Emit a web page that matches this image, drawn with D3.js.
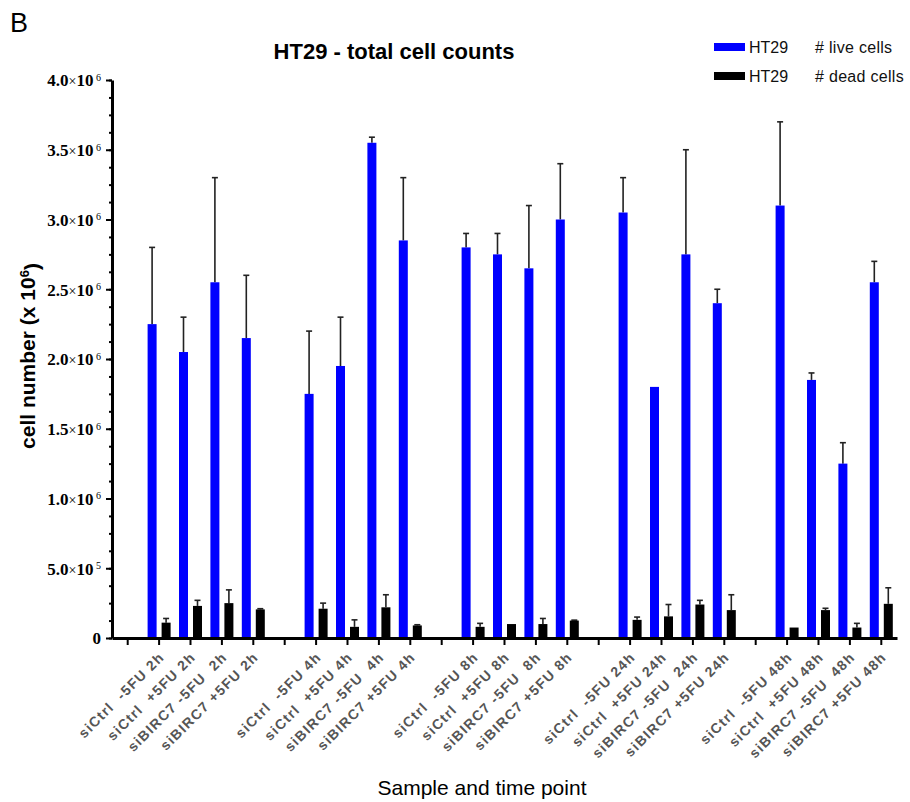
<!DOCTYPE html>
<html>
<head>
<meta charset="utf-8">
<script src="https://cdn.jsdelivr.net/npm/d3@7"></script>
<style>
  body { margin: 0; background: #fff; }
  svg { display: block; }
</style>
</head>
<body>
<svg id="chart" width="910" height="802"></svg>
<script>
// ---- data ----
const slots = [
  "", "siCtrl  -5FU 2h", "siCtrl  +5FU 2h", "siBIRC7 -5FU  2h", "siBIRC7 +5FU 2h",
  "", "siCtrl  -5FU 4h", "siCtrl  +5FU 4h", "siBIRC7 -5FU  4h", "siBIRC7 +5FU 4h",
  "", "siCtrl  -5FU 8h", "siCtrl  +5FU 8h", "siBIRC7 -5FU  8h", "siBIRC7 +5FU 8h",
  "", "siCtrl  -5FU 24h", "siCtrl  +5FU 24h", "siBIRC7 -5FU  24h", "siBIRC7 +5FU 24h",
  "", "siCtrl  -5FU 48h", "siCtrl  +5FU 48h", "siBIRC7 -5FU  48h", "siBIRC7 +5FU 48h"
];
const liveMean = [null, 2.25e6, 2.05e6, 2.55e6, 2.15e6,
                  null, 1.75e6, 1.95e6, 3.55e6, 2.85e6,
                  null, 2.80e6, 2.75e6, 2.65e6, 3.00e6,
                  null, 3.05e6, 1.80e6, 2.75e6, 2.40e6,
                  null, 3.10e6, 1.85e6, 1.25e6, 2.55e6];
const liveErr  = [null, 0.55e6, 0.25e6, 0.75e6, 0.45e6,
                  null, 0.45e6, 0.35e6, 0.04e6, 0.45e6,
                  null, 0.10e6, 0.15e6, 0.45e6, 0.40e6,
                  null, 0.25e6, 0.00e6, 0.75e6, 0.10e6,
                  null, 0.60e6, 0.05e6, 0.15e6, 0.15e6];
const deadMean = [null, 0.110e6, 0.230e6, 0.250e6, 0.205e6,
                  null, 0.210e6, 0.080e6, 0.220e6, 0.090e6,
                  null, 0.080e6, 0.100e6, 0.100e6, 0.125e6,
                  null, 0.130e6, 0.155e6, 0.240e6, 0.200e6,
                  null, 0.075e6, 0.200e6, 0.075e6, 0.245e6];
const deadErr  = [null, 0.030e6, 0.040e6, 0.095e6, 0.005e6,
                  null, 0.040e6, 0.050e6, 0.090e6, 0.005e6,
                  null, 0.025e6, 0.000e6, 0.040e6, 0.003e6,
                  null, 0.020e6, 0.085e6, 0.030e6, 0.110e6,
                  null, 0.000e6, 0.013e6, 0.030e6, 0.115e6];
const seriesNames = ["HT29", "HT29"];
const seriesDesc = ["# live cells", "# dead cells"];
const seriesColors = ["#0000ff", "#000000"];
const yTicks = [0, 5e5, 1e6, 1.5e6, 2e6, 2.5e6, 3e6, 3.5e6, 4e6];
const yTickLabels = ["0", "5.0×10^5", "1.0×10^6", "1.5×10^6", "2.0×10^6", "2.5×10^6", "3.0×10^6", "3.5×10^6", "4.0×10^6"];
const yMinorTicks = d3.range(0, 4.0001e6, 1.25e5);

// ---- layout ----
const svg = d3.select("#chart");
const x = d3.scaleBand().domain(d3.range(slots.length)).range([112, 897]).padding(0);
const y = d3.scaleLinear().domain([0, 4e6]).range([638, 80]);
const sub = d3.scaleBand().domain([0, 1]).range([-11.5, 11.5]).paddingInner(5 / 14).paddingOuter(0);
const cx = i => x(i) + x.bandwidth() / 2;

const rows = [];
slots.forEach((s, i) => {
  if (liveMean[i] != null) rows.push({i, s: 0, v: liveMean[i], e: liveErr[i]});
  if (deadMean[i] != null) rows.push({i, s: 1, v: deadMean[i], e: deadErr[i]});
});

// error bars (upper)
const eb = svg.append("g").attr("stroke", "#222").attr("stroke-width", 1.6);
rows.filter(r => r.e > 0).forEach(r => {
  const c = cx(r.i) + sub(r.s) + sub.bandwidth() / 2;
  eb.append("line").attr("x1", c).attr("x2", c).attr("y1", y(r.v)).attr("y2", y(r.v + r.e));
  eb.append("line").attr("x1", c - 3).attr("x2", c + 3).attr("y1", y(r.v + r.e)).attr("y2", y(r.v + r.e));
});

// bars
svg.append("g").selectAll("rect").data(rows).join("rect")
  .attr("x", r => cx(r.i) + sub(r.s))
  .attr("width", sub.bandwidth())
  .attr("y", r => y(r.v))
  .attr("height", r => y(0) - y(r.v))
  .attr("fill", r => seriesColors[r.s]);

// y axis
const yAxisG = svg.append("g").attr("transform", "translate(112,0)");
yAxisG.call(d3.axisLeft(y).tickValues(yMinorTicks).tickSize(3).tickFormat(() => ""))
  .call(g => g.select(".domain").remove())
  .selectAll("line").attr("stroke", "#000").attr("stroke-width", 2);
const yAxisMajor = svg.append("g").attr("transform", "translate(112,0)");
yAxisMajor.call(d3.axisLeft(y).tickValues(yTicks).tickSize(6).tickSizeOuter(0).tickFormat(() => ""));
yAxisMajor.select(".domain").attr("stroke", "#000").attr("stroke-width", 3);
yAxisMajor.selectAll(".tick line").attr("stroke", "#000").attr("stroke-width", 2);
yAxisMajor.selectAll(".tick").each(function (d, k) {
  const lab = yTickLabels[k];
  const t = d3.select(this).append("text")
    .attr("x", -11).attr("dy", "0.35em")
    .attr("text-anchor", "end")
    .attr("fill", "#000")
    .style("font-family", "'Liberation Serif', 'Times New Roman', serif")
    .style("font-size", "17px").style("font-weight", "bold");
  if (lab.indexOf("×") < 0) { t.text(lab); return; }
  const [mant, rest] = lab.split("×");
  const [base, exp] = rest.split("^");
  t.append("tspan").text(mant);
  t.append("tspan").style("font-weight", "normal").style("font-size", "14px").text("×");
  t.append("tspan").text(base);
  t.append("tspan").attr("dy", "-0.55em").style("font-size", "10px").style("font-weight", "normal").text(" " + exp);
});

// x axis
const xAxisG = svg.append("g").attr("transform", "translate(0,638)");
xAxisG.call(d3.axisBottom(x).tickSize(7).tickSizeOuter(0).tickFormat(() => ""));
xAxisG.select(".domain").attr("stroke", "#000").attr("stroke-width", 3);
xAxisG.selectAll(".tick line").attr("stroke", "#000").attr("stroke-width", 2);
xAxisG.selectAll(".tick").append("text")
  .attr("text-anchor", "end")
  .attr("transform", "translate(6,20) rotate(-45)")
  .attr("fill", "#555")
  .style("white-space", "pre")
  .style("font-family", "Arial, 'Liberation Sans', sans-serif")
  .style("font-size", "14px").style("font-weight", "bold")
  .style("letter-spacing", "1.3px")
  .text(d => slots[d]);

// titles
svg.append("text").attr("x", 10).attr("y", 32)
  .style("font-family", "Arial, 'Liberation Sans', sans-serif").style("font-size", "27px")
  .text("B");
svg.append("text").attr("x", 394).attr("y", 59).attr("text-anchor", "middle")
  .style("font-family", "Arial, 'Liberation Sans', sans-serif").style("font-size", "22px").style("font-weight", "bold")
  .text("HT29 - total cell counts");
svg.append("text").attr("x", 482).attr("y", 795).attr("text-anchor", "middle")
  .style("font-family", "Arial, 'Liberation Sans', sans-serif").style("font-size", "21px")
  .text("Sample and time point");
const yt = svg.append("text").attr("transform", "translate(35,356) rotate(-90)").attr("text-anchor", "middle")
  .style("font-family", "Arial, 'Liberation Sans', sans-serif").style("font-size", "21px").style("font-weight", "bold");
yt.append("tspan").text("cell number (x 10");
yt.append("tspan").attr("dy", "-0.5em").style("font-size", "13px").text("6");
yt.append("tspan").attr("dy", "0.5em").text(")");

// legend
const leg = svg.append("g");
seriesNames.forEach((n, k) => {
  const yy = 43 + k * 29;
  leg.append("rect").attr("x", 714).attr("y", yy).attr("width", 31).attr("height", 8).attr("fill", seriesColors[k]);
  leg.append("text").attr("x", 749).attr("y", yy + 10)
    .style("font-family", "Arial, 'Liberation Sans', sans-serif").style("font-size", "16px").attr("fill", "#111")
    .text(n);
  leg.append("text").attr("x", 815).attr("y", yy + 10)
    .style("font-family", "Arial, 'Liberation Sans', sans-serif").style("font-size", "16px").attr("fill", "#111")
    .style("letter-spacing", "0.3px")
    .text(seriesDesc[k]);
});
</script>
</body>
</html>
